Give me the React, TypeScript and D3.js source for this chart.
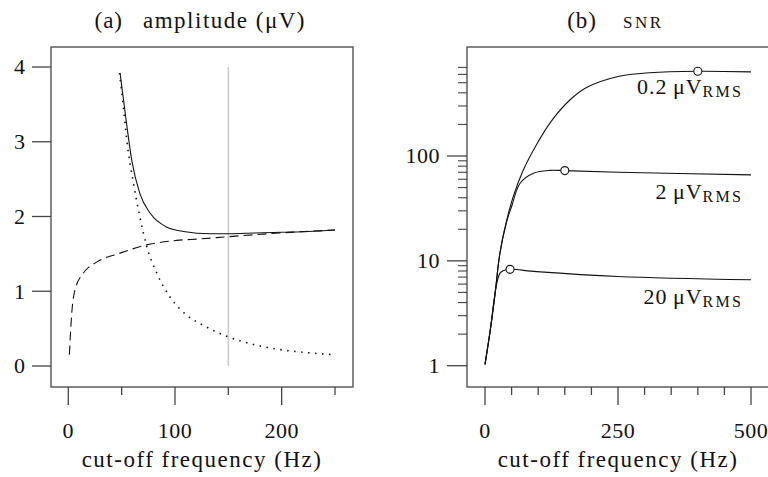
import React from "react";
import * as d3 from "d3";

// ---------- Panel (a): amplitude (µV) ----------
const totalF = [48.5, 55, 59.5, 67, 77, 92, 108, 133, 150, 175, 200, 225, 250];
const totalV = [3.92, 3.2, 2.75, 2.31, 2.04, 1.86, 1.8, 1.77, 1.77, 1.78, 1.79, 1.8, 1.82];

const noiseF = [48, 52, 55, 61, 67, 73.5, 83, 95, 111, 127, 150, 173, 198, 223, 250];
const noiseV = [3.92, 3.42, 3.0, 2.45, 2.0, 1.6, 1.24, 0.93, 0.68, 0.54, 0.39, 0.29, 0.22, 0.18, 0.15];

const signalF = [1, 3.2, 6.3, 14, 26.6, 48.5, 73.5, 101.6, 123.5, 150, 198.5, 250];
const signalV = [0.15, 0.7, 1.02, 1.24, 1.39, 1.51, 1.62, 1.68, 1.7, 1.73, 1.78, 1.82];

const markerF = 150;
const ampYTicks = [0, 1, 2, 3, 4];
const ampXMajor = [0, 100, 200];
const ampXMinor = [50, 150, 250];

// ---------- Panel (b): SNR ----------
const snr02F = [0, 10, 19, 28, 41, 53, 72, 97, 124, 160, 190, 250, 310, 400, 500];
const snr02V = [1.03, 2.2, 4.9, 11.8, 24.6, 41, 73.6, 129, 213, 344, 448, 573, 623, 643, 634];

const snr2F = [0, 10, 19, 28, 41, 50, 66, 91, 122, 150, 250, 500];
const snr2V = [1.03, 2.2, 4.9, 11.8, 24, 33, 55, 68.5, 73, 72.6, 70, 66];

const snr20F = [0, 10, 17, 21, 28, 35, 47, 97, 250, 500];
const snr20V = [1.03, 2.2, 4.2, 5.7, 7.6, 8.1, 8.3, 7.9, 7.1, 6.6];

const peakF = [400, 150, 47];
const peakV = [643, 72.6, 8.3];

const seriesLabels = ["0.2", "2", "20"];
const snrYMajor = [1, 10, 100];
const snrYMinor = [2, 3, 4, 5, 6, 7, 8, 9, 20, 30, 40, 50, 60, 70, 80, 90, 200, 300, 400, 500, 600, 700];
const snrXMajor = [0, 250, 500];
const snrXMinor = [50, 100, 150, 200, 300, 350, 400, 450];

const FONT = "'Liberation Serif', 'Times New Roman', serif";
const AX = "#444";
const FS = 22;

function zip(f: number[], v: number[]) {
  return f.map((x, i) => [x, v[i]] as [number, number]);
}

export default function App() {
  // panel a scales
  const xA = d3.scaleLinear().domain([0, 250]).range([68.3, 335]);
  const yA = d3.scaleLinear().domain([0, 4]).range([366, 67]);
  const boxA = { x0: 51, y0: 47, x1: 353, y1: 387 };

  // panel b scales
  const xB = d3.scaleLinear().domain([0, 500]).range([485, 751]);
  const yB = d3.scaleLog().domain([1, 100]).range([365.7, 156]);
  const boxB = { x0: 467, y0: 47, x1: 769, y1: 387 };

  const lineA = d3
    .line<[number, number]>()
    .x((d) => xA(d[0]))
    .y((d) => yA(d[1]))
    .curve(d3.curveMonotoneX);
  const lineB = d3
    .line<[number, number]>()
    .x((d) => xB(d[0]))
    .y((d) => yB(d[1]))
    .curve(d3.curveCatmullRom.alpha(0.5));

  const labelBaselines = [93.5, 199, 303.5];

  return (
    <svg
      width={768}
      height={477}
      style={{ position: "absolute", left: 0, top: 0, background: "#fff" }}
      fontFamily={FONT}
    >
      <rect x={0} y={0} width={768} height={477} fill="#fff" />

      {/* ---------- Panel a ---------- */}
      <text x={123} y={28} fontSize={23} textAnchor="end" fill="#111" letterSpacing={1}>
        (a)
      </text>
      <text x={143} y={28} fontSize={23} fill="#111" letterSpacing={1.5}>
        amplitude (μV)
      </text>

      <rect
        x={boxA.x0}
        y={boxA.y0}
        width={boxA.x1 - boxA.x0}
        height={boxA.y1 - boxA.y0}
        fill="none"
        stroke={AX}
        strokeWidth={1.3}
      />

      {ampYTicks.map((t) => (
        <g key={"ay" + t}>
          <line x1={32} x2={boxA.x0} y1={yA(t)} y2={yA(t)} stroke={AX} strokeWidth={1.3} />
          <text x={25} y={yA(t)} dy="0.33em" fontSize={FS} textAnchor="end" fill="#111">
            {t}
          </text>
        </g>
      ))}
      {ampXMajor.map((t) => (
        <g key={"axM" + t}>
          <line x1={xA(t)} x2={xA(t)} y1={boxA.y1} y2={405} stroke={AX} strokeWidth={1.3} />
          <text x={xA(t)} y={438} fontSize={FS} textAnchor="middle" fill="#111" letterSpacing={0.5}>
            {t}
          </text>
        </g>
      ))}
      {ampXMinor.map((t) => (
        <line key={"axm" + t} x1={xA(t)} x2={xA(t)} y1={boxA.y1} y2={395} stroke={AX} strokeWidth={1.3} />
      ))}
      <text x={202} y={467} fontSize={23} textAnchor="middle" fill="#111" letterSpacing={1.5}>
        cut-off frequency (Hz)
      </text>

      <line x1={xA(markerF)} x2={xA(markerF)} y1={yA(4)} y2={yA(0)} stroke="#ccc" strokeWidth={1.6} />

      <path d={lineA(zip(totalF, totalV)) || ""} fill="none" stroke="#111" strokeWidth={1.1} />
      <path
        d={lineA(zip(noiseF, noiseV)) || ""}
        fill="none"
        stroke="#111"
        strokeWidth={1.6}
        strokeDasharray="1.5,5.5"
      />
      <path
        d={lineA(zip(signalF, signalV)) || ""}
        fill="none"
        stroke="#111"
        strokeWidth={1.1}
        strokeDasharray="9,5"
      />

      {/* ---------- Panel b ---------- */}
      <text x={597} y={28} fontSize={23} textAnchor="end" fill="#111" letterSpacing={1}>
        (b)
      </text>
      <text x={623} y={28} fontSize={17} fill="#111" letterSpacing={2.5}>
        SNR
      </text>

      <rect
        x={boxB.x0}
        y={boxB.y0}
        width={boxB.x1 - boxB.x0}
        height={boxB.y1 - boxB.y0}
        fill="none"
        stroke={AX}
        strokeWidth={1.3}
      />
      {snrYMajor.map((t) => (
        <g key={"by" + t}>
          <line x1={447} x2={boxB.x0} y1={yB(t)} y2={yB(t)} stroke={AX} strokeWidth={1.3} />
          <text x={440} y={yB(t)} dy="0.33em" fontSize={FS} textAnchor="end" fill="#111" letterSpacing={0.5}>
            {t}
          </text>
        </g>
      ))}
      {snrYMinor.map((t) => (
        <line key={"bym" + t} x1={458} x2={boxB.x0} y1={yB(t)} y2={yB(t)} stroke={AX} strokeWidth={1.1} />
      ))}
      {snrXMajor.map((t) => (
        <g key={"bxM" + t}>
          <line x1={xB(t)} x2={xB(t)} y1={boxB.y1} y2={405} stroke={AX} strokeWidth={1.3} />
          <text x={xB(t)} y={438} fontSize={FS} textAnchor="middle" fill="#111" letterSpacing={0.5}>
            {t}
          </text>
        </g>
      ))}
      {snrXMinor.map((t) => (
        <line key={"bxm" + t} x1={xB(t)} x2={xB(t)} y1={boxB.y1} y2={395} stroke={AX} strokeWidth={1.3} />
      ))}
      <text x={618} y={467} fontSize={23} textAnchor="middle" fill="#111" letterSpacing={1.5}>
        cut-off frequency (Hz)
      </text>

      <path d={lineB(zip(snr02F, snr02V)) || ""} fill="none" stroke="#111" strokeWidth={1.1} />
      <path d={lineB(zip(snr2F, snr2V)) || ""} fill="none" stroke="#111" strokeWidth={1.1} />
      <path d={lineB(zip(snr20F, snr20V)) || ""} fill="none" stroke="#111" strokeWidth={1.1} />

      {peakF.map((f, i) => (
        <circle key={"pk" + i} cx={xB(f)} cy={yB(peakV[i])} r={4} fill="#fff" stroke="#111" strokeWidth={1.1} />
      ))}

      {seriesLabels.map((s, i) => (
        <text key={"lb" + i} x={743} y={labelBaselines[i]} fontSize={22} textAnchor="end" fill="#111" letterSpacing={1}>
          {s + "\u2009μV"}
          <tspan fontSize={16} dy={3} letterSpacing={2.2}>
            RMS
          </tspan>
        </text>
      ))}
    </svg>
  );
}
